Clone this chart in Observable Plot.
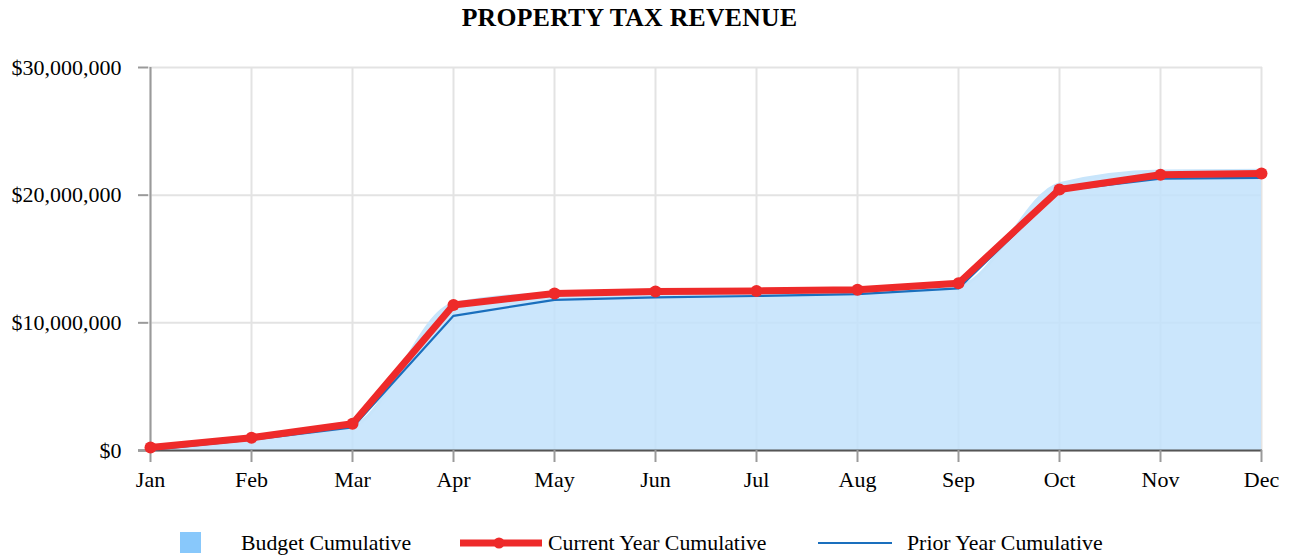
<!DOCTYPE html>
<html><head><meta charset="utf-8">
<script src="https://cdn.jsdelivr.net/npm/d3@7"></script>
<script src="https://cdn.jsdelivr.net/npm/@observablehq/plot@0.6"></script>
<style>
body{margin:0;background:#fff;font-family:"Liberation Serif","Times New Roman",serif;}
#wrap{position:relative;width:1289px;height:558px;}
#title{position:absolute;left:0;top:3px;width:1259px;text-align:center;font-weight:bold;font-size:25.7px;letter-spacing:0.3px;}
#chart{position:absolute;left:0;top:36px;}
.lg{position:absolute;top:531px;font-size:21.8px;line-height:24px;}
</style></head><body>
<div id="wrap">
<div id="title">PROPERTY TAX REVENUE</div>
<div id="chart"></div>
<div class="lg" style="left:180px;top:532px;width:21px;height:21px;background:#88c8fb"></div>
<div class="lg" style="left:241px;">Budget Cumulative</div>
<svg class="lg" style="left:458px;top:534px" width="86" height="18"><line x1="2" x2="84" y1="9" y2="9" stroke="#ee2a2a" stroke-width="7"/><circle cx="41" cy="9" r="5.5" fill="#ee2a2a"/></svg>
<div class="lg" style="left:548px;">Current Year Cumulative</div>
<svg class="lg" style="left:817px;top:534px" width="76" height="18"><line x1="1" x2="75" y1="9" y2="9" stroke="#1a6fbd" stroke-width="2.2"/></svg>
<div class="lg" style="left:907px;">Prior Year Cumulative</div>
</div>
<script>
const months = ["Jan","Feb","Mar","Apr","May","Jun","Jul","Aug","Sep","Oct","Nov","Dec"];
const budget = [0, 900000, 1900000, 11500000, 12300000, 12400000, 12500000, 12600000, 12900000, 20900000, 21900000, 21950000];
const current = [230000, 1000000, 2100000, 11400000, 12300000, 12450000, 12500000, 12600000, 13100000, 20450000, 21600000, 21700000];
const prior = [50000, 850000, 1800000, 10550000, 11800000, 12000000, 12100000, 12250000, 12700000, 20350000, 21300000, 21350000];
const yTicks = [0, 10000000, 20000000, 30000000];

const rows = months.map((m,i)=>({month:m, budget:budget[i], current:current[i], prior:prior[i]}));
const fmt = v => "$" + d3.format(",")(v);

const plot = Plot.plot({
  width: 1289, height: 470,
  marginLeft: 148, marginRight: 27, marginTop: 31, marginBottom: 56,
  style: {fontFamily: '"Liberation Serif","Times New Roman",serif', fontSize: "22px", color: "#000", background: "#fff"},
  x: {type: "point", domain: months, padding: 0},
  y: {domain: [0, 30000000]},
  marks: [
    Plot.gridX(months, {stroke: "#e3e3e3", strokeOpacity: 1, strokeWidth: 2}),
    Plot.gridY(yTicks, {stroke: "#e3e3e3", strokeOpacity: 1, strokeWidth: 2}),
    Plot.areaY(rows, {x: "month", y: "budget", fill: "#c2e2fb", fillOpacity: 0.85, curve: "monotone-x"}),
    Plot.lineY(rows, {x: "month", y: "budget", stroke: "#c8e5fb", strokeWidth: 3, curve: "monotone-x"}),
    Plot.ruleX([months[0]], {stroke: "#9a9a9a", strokeWidth: 2}),
    Plot.ruleY([0], {stroke: "#555", strokeWidth: 2, insetLeft: -10}),
    Plot.axisY(yTicks, {tickFormat: fmt, tickSize: 10, tickPadding: 17, stroke: "#9a9a9a", strokeWidth: 2, label: null, fill: "#000", fontSize: 22}),
    Plot.axisX(months, {tickSize: 12, tickPadding: 9, stroke: "#9a9a9a", strokeWidth: 2, label: null, fill: "#000", fontSize: 22}),
    Plot.lineY(rows, {x: "month", y: "prior", stroke: "#1a6fbd", strokeWidth: 2.2}),
    Plot.lineY(rows, {x: "month", y: "current", stroke: "#ee2a2a", strokeWidth: 7}),
    Plot.dot(rows, {x: "month", y: "current", fill: "#ee2a2a", r: 6})
  ]
});
document.getElementById("chart").append(plot);
</script>
</body></html>
